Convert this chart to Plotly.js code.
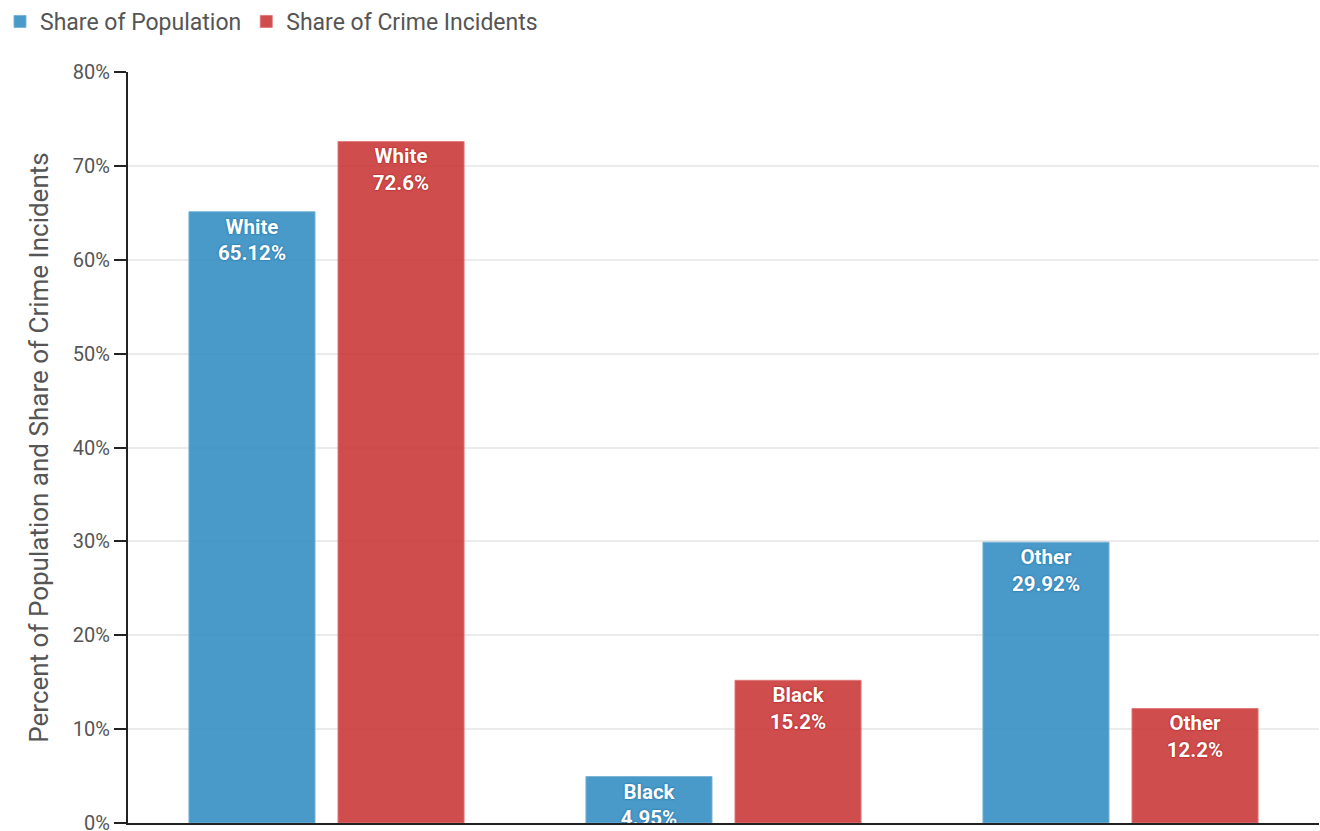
<!DOCTYPE html>
<html>
<head>
<meta charset="utf-8">
<script src="https://cdn.plot.ly/plotly-3.0.1.min.js"></script>
<style>html,body{margin:0;padding:0;background:#fff;}#chart{width:1320px;height:831px;}</style>
</head>
<body>
<div id="chart"></div>
<script>
const categories = ["White", "Black", "Other"];
const populationShare = [65.12, 4.95, 29.92];
const crimeShare = [72.6, 15.2, 12.2];
const seriesNames = ["Share of Population", "Share of Crime Incidents"];
const yTickVals = [0, 10, 20, 30, 40, 50, 60, 70, 80];
const yTickText = ["0%", "10%", "20%", "30%", "40%", "50%", "60%", "70%", "80%"];

function labels(vals) {
  return vals.map((v, i) => "<b>" + categories[i] + "<br>" + v + "%</b>");
}

const traces = [
  {
    type: "bar", name: seriesNames[0], x: categories, y: populationShare,
    text: labels(populationShare), textposition: "inside", insidetextanchor: "end",
    constraintext: "none", cliponaxis: true,
    textfont: {family: "Roboto", size: 20.5, color: "#ffffff", shadow: "0 0 2px #2776ab, 0 0 2px #2776ab"},
    marker: {color: "rgba(46,139,192,0.87)", line: {color: "rgba(120,180,215,0.9)", width: 1}},
    hoverinfo: "none"
  },
  {
    type: "bar", name: seriesNames[1], x: categories, y: crimeShare,
    text: labels(crimeShare), textposition: "inside", insidetextanchor: "end",
    constraintext: "none", cliponaxis: true,
    textfont: {family: "Roboto", size: 20.5, color: "#ffffff", shadow: "0 0 2px #b52828, 0 0 2px #b52828"},
    marker: {color: "rgba(201,51,52,0.87)", line: {color: "rgba(225,120,120,0.9)", width: 1}},
    hoverinfo: "none"
  }
];

const layout = {
  width: 1320, height: 831,
  margin: {l: 128, r: 1, t: 72, b: 8},
  paper_bgcolor: "#ffffff", plot_bgcolor: "#ffffff",
  font: {family: "Roboto", color: "#444"},
  barmode: "group", bargap: 0.249, bargroupgap: 0.154,
  showlegend: true,
  legend: {
    orientation: "h", xref: "container", x: 0, xanchor: "left",
    yref: "container", y: 1, yanchor: "top",
    font: {family: "Roboto", size: 23, color: "#555"},
    itemwidth: 30, tracegroupgap: 0, bgcolor: "rgba(0,0,0,0)"
  },
  xaxis: {
    showticklabels: false, ticks: "", showgrid: false, zeroline: false,
    showline: true, linecolor: "#222", linewidth: 2, fixedrange: true
  },
  yaxis: {
    range: [0, 80], tickvals: yTickVals, ticktext: yTickText,
    ticks: "outside", ticklen: 12, tickwidth: 2, tickcolor: "#222",
    ticklabeloverflow: "allow",
    showline: true, linecolor: "#222", linewidth: 2,
    showgrid: true, gridcolor: "#ebebeb", gridwidth: 2, zeroline: false,
    tickfont: {family: "Roboto", size: 20, color: "#555"},
    title: {text: "Percent of Population and Share of Crime Incidents", font: {family: "Roboto", size: 26, color: "#555"}, standoff: 17},
    fixedrange: true
  }
};

Plotly.newPlot("chart", traces, layout, {displayModeBar: false, staticPlot: true});
</script>
</body>
</html>
